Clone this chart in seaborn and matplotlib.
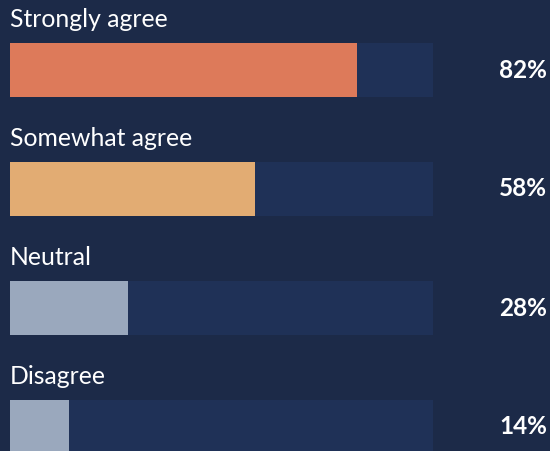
import matplotlib
matplotlib.use("Agg")
import matplotlib.pyplot as plt
import seaborn as sns
import pandas as pd

categories = ["Strongly agree", "Somewhat agree", "Neutral", "Disagree"]
values = [82, 58, 28, 14]
track = [100, 100, 100, 100]
value_labels = ["82%", "58%", "28%", "14%"]
colors = ["#dd7a5a", "#e2ac73", "#9aa8bd", "#9aa8bd"]

BG = "#1c2a48"
TRACK = "#1f3157"

sns.set_theme(style="white")
plt.rcParams['font.family'] = ['Lato', 'DejaVu Sans']

fig = plt.figure(figsize=(5.5, 4.51), dpi=100, facecolor=BG)
ax = fig.add_axes([0, 0, 1, 1])
ax.set_facecolor(BG)

df = pd.DataFrame({"cat": categories, "val": values, "track": track})
bw = 54 / 119
sns.barplot(data=df, y="cat", x="track", color=TRACK, width=bw, ax=ax,
            orient="h", saturation=1)
sns.barplot(data=df, y="cat", x="val", hue="cat", palette=colors, width=bw,
            ax=ax, orient="h", saturation=1, legend=False)
for p in ax.patches:
    p.set_linewidth(0)

scale = 4.23
ax.set_xlim(-10 / scale, (550 - 10) / scale)
ax.set_ylim(3 + (451 - 427) / 119, -70 / 119)

for i, (c, lab) in enumerate(zip(categories, value_labels)):
    ax.text(0, i - bw / 2 - 16 / 119, c, color="white", fontsize=17.8,
            va="baseline", ha="left")
    ax.text((547 - 10) / scale, i, lab, color="white", fontsize=17.5,
            fontweight="bold", va="center", ha="right")

ax.set_axis_off()
fig.savefig("out.png", dpi=100, facecolor=BG)
